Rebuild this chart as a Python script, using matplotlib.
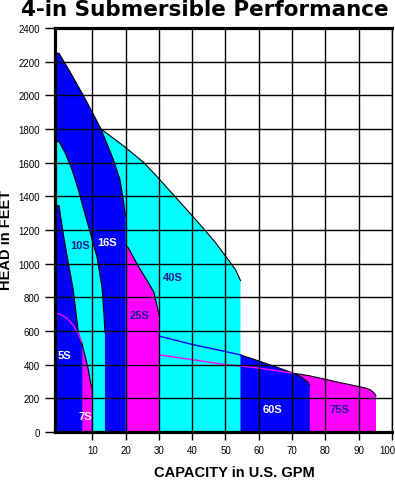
import matplotlib
matplotlib.use("Agg")
import matplotlib.pyplot as plt
from matplotlib.transforms import ScaledTranslation
import numpy as np

# ---- data ----
flow_75s = [30, 40, 50, 54.5, 60, 70, 75, 80, 85, 90, 92, 93.5, 94.5, 95.2]
head_75s = [458, 430, 400, 392, 380, 350, 335, 313, 291, 270, 262, 250, 235, 215]

flow_60s = [30, 40, 50, 54.5, 60, 65, 70, 72, 73.5, 74.8, 75.3]
head_60s = [570, 520, 478, 458, 422, 388, 352, 335, 315, 295, 275]

flow_40s = [0, 12.6, 17, 20, 25.5, 30, 35, 40, 44, 47, 50, 53, 54.5]
head_40s = [1990, 1800, 1735, 1690, 1600, 1505, 1395, 1285, 1195, 1125, 1045, 965, 900]

flow_25s = [20, 20.7, 23.8, 26.9, 28.5, 29.3, 30]
head_25s = [1110, 1098, 985, 885, 830, 760, 700]

flow_16s = [0, 3.3, 7.3, 10, 12.6, 16.3, 18.3, 19.3, 20]
head_16s = [2250, 2140, 2000, 1900, 1800, 1620, 1500, 1380, 1280]

flow_10s = [0, 1.8, 3.8, 5.8, 7.2, 9.4, 11.4, 12.9, 13.5, 13.8]
head_10s = [1725, 1660, 1565, 1440, 1337, 1183, 1040, 862, 700, 590]

flow_7s = [0, 2.3, 4.3, 5.8, 6.8, 7.8, 8.8, 9.5, 10]
head_7s = [702, 677, 635, 585, 534, 455, 372, 291, 258]

flow_5s = [0, 1.3, 2.3, 4.3, 5.8, 6.6, 7]
head_5s = [1345, 1175, 1060, 842, 594, 530, 515]

x_ticks = [10, 20, 30, 40, 50, 60, 70, 80, 90, 100]
y_ticks = [0, 200, 400, 600, 800, 1000, 1200, 1400, 1600, 1800, 2000, 2200, 2400]

CYAN = "#00FFFF"
BLUE = "#0000FF"
MAG = "#FF00FF"
NAVY = "#1c1c8c"

# painter's order, back to front
pumps = [
    ("75S", flow_75s, head_75s, MAG, (84.2, 137), NAVY),
    ("60S", flow_60s, head_60s, BLUE, (64, 137), "white"),
    ("40S", flow_40s, head_40s, CYAN, (34.3, 923), NAVY),
    ("25S", flow_25s, head_25s, MAG, (24.3, 697), NAVY),
    ("16S", flow_16s, head_16s, BLUE, (14.5, 1130), "white"),
    ("10S", flow_10s, head_10s, CYAN, (6.3, 1108), NAVY),
    ("7S", flow_7s, head_7s, MAG, (8.0, 97), "white"),
    ("5S", flow_5s, head_5s, BLUE, (1.6, 458), "white"),
]

fig = plt.figure(figsize=(3.95, 4.81), dpi=100)
ax = fig.add_axes([55 / 395, 1 - 433 / 481, (392 - 55) / 395, (433 - 29) / 481])
ax.set_xlim(-1.2, 100)
ax.set_ylim(0, 2400)
xmin = ax.get_xlim()[0]


def extend(fx, hy):
    # curves that start at zero flow are carried flat to the left axis edge
    if fx[0] == 0:
        return [xmin] + list(fx), [hy[0]] + list(hy)
    return list(fx), list(hy)


z = 1.0
for name, fx, hy, col, pos, tcol in pumps:
    ex, ey = extend(fx, hy)
    ax.fill_between(ex, ey, 0, facecolor=col, edgecolor="none", linewidth=0, zorder=z)
    ax.plot(ex, ey, color="black", lw=0.8, zorder=z + 0.05)
    z += 0.1

# curve segments of lower pumps that show through the upper fills
ax.plot(flow_60s[:4], head_60s[:4], color=BLUE, lw=1.0, zorder=2.2)
ax.plot(flow_75s[:6], head_75s[:6], color=MAG, lw=1.0, zorder=2.2)
ex7, ey7 = extend(flow_7s[:5], head_7s[:5])
ax.plot(ex7, ey7, color=MAG, lw=1.0, zorder=2.2)

for name, fx, hy, col, pos, tcol in pumps:
    ax.text(pos[0], pos[1], name, color=tcol, fontsize=8, fontweight="bold",
            family="Liberation Sans", ha="center", va="center", zorder=5)

ax.set_xticks(x_ticks)
ax.set_yticks(y_ticks)
ax.set_xticklabels([str(v) for v in x_ticks])
ax.set_yticklabels([str(v) for v in y_ticks])
ax.set_axisbelow(False)
ax.grid(True, color="black", lw=1.0)
for t in ax.get_xticklabels() + ax.get_yticklabels():
    t.set_family("Liberation Sans")
    t.set_fontsize(7)
ax.tick_params(axis="y", direction="out", length=7.2, width=1, pad=3.6, colors="black")
ax.tick_params(axis="x", direction="out", length=5.5, width=1, pad=4.0, colors="black")
last = ax.get_xticklabels()[-1]
last.set_transform(last.get_transform() + ScaledTranslation(-5 / 100, 0, fig.dpi_scale_trans))

for s in ["left", "bottom", "top"]:
    ax.spines[s].set_linewidth(2.3)
    ax.spines[s].set_zorder(4)
ax.spines["right"].set_linewidth(1.0)

fig.text(205 / 395, 1 - 10 / 481, "4-in Submersible Performance", ha="center", va="center",
         fontsize=15.5, fontweight="bold", family="DejaVu Sans", color="black")
fig.text(234.5 / 395, 1 - 477 / 481, "CAPACITY in U.S. GPM", ha="center", va="baseline",
         fontsize=10.5, fontweight="bold", family="Liberation Sans", color="black")
fig.text(6.5 / 395, 1 - 240 / 481, "HEAD in FEET", ha="center", va="center", rotation=90,
         fontsize=10.5, fontweight="bold", family="Liberation Sans", color="black")

fig.savefig("out.png", dpi=100)
